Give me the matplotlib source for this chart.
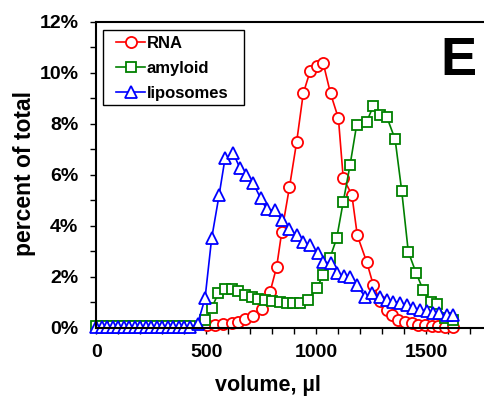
import matplotlib
matplotlib.use("Agg")
import matplotlib.pyplot as plt
from matplotlib.ticker import MultipleLocator, FuncFormatter
from matplotlib.patches import Rectangle
from matplotlib.lines import Line2D
from matplotlib.legend_handler import HandlerLine2D

plt.rcParams['font.family'] = ['Liberation Sans', 'DejaVu Sans']
plt.rcParams['font.weight'] = 'bold'

# ---- data (volume in µl, value in % of total) ----
flat_vol = [0, 25, 50, 75, 100, 125, 150, 175, 200, 225, 250, 275, 300,
            325, 350, 375, 400, 425, 460]

rna_vol = [502, 539, 577, 615, 645, 676, 714, 752, 790, 820, 843, 878, 911,
           941, 972, 1002, 1032, 1065, 1101, 1123, 1162, 1187, 1230, 1260,
           1290, 1320, 1345, 1374, 1404, 1435, 1465, 1495, 1526, 1556, 1586, 1624]
rna_pct = [0.1, 0.1, 0.15, 0.17, 0.24, 0.33, 0.45, 0.75, 1.4, 2.39, 3.75, 5.5,
           7.29, 9.19, 10.05, 10.25, 10.37, 9.19, 8.21, 5.86, 5.22, 3.62, 2.57,
           1.67, 1.05, 0.69, 0.5, 0.32, 0.22, 0.17, 0.12, 0.1, 0.07, 0.05, 0.04, 0.02]

amy_vol = flat_vol[:-1] + [
    494, 524, 554, 585, 615, 645, 676, 706, 736, 767, 797, 835, 866, 896,
    926, 964, 1002, 1032, 1063, 1093, 1123, 1154, 1184, 1230, 1260, 1290,
    1321, 1359, 1389, 1419, 1454, 1487, 1521, 1551, 1586, 1624]
amy_pct = [0.05] * (len(flat_vol) - 1) + [
    0.3, 0.76, 1.35, 1.5, 1.5, 1.42, 1.3, 1.22, 1.12, 1.1, 1.05, 1.02, 0.98,
    0.95, 0.95, 1.1, 1.55, 2.07, 2.75, 3.5, 4.94, 6.38, 7.95, 8.08, 8.7, 8.36,
    8.27, 7.39, 5.37, 2.98, 2.16, 1.47, 1.0, 0.93, 0.4, 0.3]

lip_vol = flat_vol + [
    494, 524, 558, 585, 623, 653, 680, 714, 747, 775, 812, 843, 878, 911,
    941, 972, 1007, 1032, 1066, 1096, 1127, 1154, 1184, 1222, 1253, 1290,
    1321, 1351, 1381, 1412, 1442, 1472, 1503, 1530, 1560, 1594, 1624]
lip_pct = [0.03] * (len(flat_vol) - 1) + [0.15] + [
    1.15, 3.5, 5.2, 6.64, 6.84, 6.25, 6.0, 5.66, 5.07, 4.64, 4.6, 4.22, 3.86,
    3.64, 3.37, 3.24, 2.92, 2.59, 2.52, 2.13, 2.03, 2.0, 1.67, 1.22, 1.35,
    1.22, 1.09, 1.02, 0.98, 0.89, 0.76, 0.69, 0.67, 0.56, 0.56, 0.5, 0.5]

W, H = 485, 396
fig = plt.figure(figsize=(W / 100, H / 100), dpi=100)
ax = fig.add_axes([96.5 / W, (H - 327.7) / H, 395.5 / W, (327.7 - 21.7) / H])

common = dict(lw=1.2, mew=1.3, mfc='white', clip_on=False)
ax.plot(rna_vol, rna_pct, color='#ff0000', marker='o', ms=8, label='RNA', **common)
ax.plot(amy_vol, amy_pct, color='#008000', marker='s', ms=7.5, label='amyloid', **common)
ax.plot(lip_vol, lip_pct, color='#0000ff', marker='^', ms=8, label='liposomes', **common)

ax.set_xlim(0, 1800)
ax.set_ylim(0, 12)
ax.spines['right'].set_visible(False)
for s in ['left', 'bottom', 'top']:
    ax.spines[s].set_linewidth(1.5)

ax.xaxis.set_major_locator(MultipleLocator(500))
ax.xaxis.set_minor_locator(MultipleLocator(100))
ax.yaxis.set_major_locator(MultipleLocator(2))
ax.yaxis.set_minor_locator(MultipleLocator(1))
ax.yaxis.set_major_formatter(FuncFormatter(lambda v, p: f"{int(round(v))}%"))
ax.tick_params(which='both', direction='out', width=1.0, length=4.5, labelsize=14)
ax.tick_params(axis='x', which='both', pad=7)
ax.tick_params(axis='y', which='both', pad=8.5)
ax.tick_params(top=False, right=False)

ax.set_xlabel('volume, µl', fontsize=15.5, fontweight='bold')
ax.xaxis.set_label_coords((268 - 96.5) / 395.5, -0.156)
ax.set_ylabel('percent of total', fontsize=16.5, fontweight='bold')
ax.yaxis.set_label_coords(-0.153, 0.504)

# legend frame drawn as a rectangle, entries without frame
frame = Rectangle((102.7 / W, 1 - 105 / H), (244.3 - 102.7) / W, 75 / H,
                  transform=fig.transFigure, fill=True, facecolor='white',
                  edgecolor='black', lw=1.0, zorder=5, clip_on=False)
ax.add_patch(frame)
fs_leg = 12
leg = ax.legend(loc='upper left',
                bbox_to_anchor=((109.5 - 96.5) / 395.5, (327.7 - 36) / 306),
                frameon=False, fontsize=fs_leg, borderaxespad=0, borderpad=0,
                handlelength=2.15, handletextpad=0.1, labelspacing=0.6,
                handler_map={Line2D: HandlerLine2D(xpad=0.4)})
leg.set_zorder(6)
for t in leg.get_texts():
    t.set_fontweight('bold')

fig.text(458 / W, 1 - 61 / H, 'E', fontsize=39, fontweight='bold',
         ha='center', va='center')

fig.savefig('out.png', dpi=100)
